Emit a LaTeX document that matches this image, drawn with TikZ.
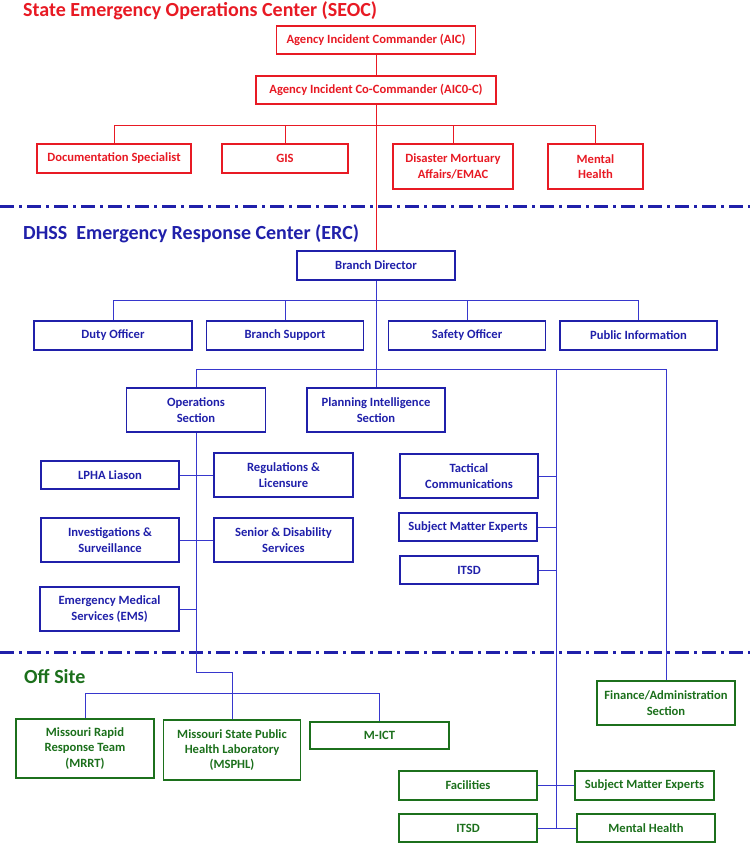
\documentclass[tikz,border=0pt]{standalone}
\usepackage{fontspec}
\setmainfont{Carlito}
\definecolor{seoc}{RGB}{232,26,36}
\definecolor{erc}{RGB}{32,32,170}
\definecolor{ercline}{RGB}{55,55,205}
\definecolor{off}{RGB}{28,112,28}
\tikzset{
 box/.style={draw, line width=1.5pt, inner sep=0pt, align=center, font=\fontsize{12.6}{15.3}\selectfont\bfseries},
 wh/.style 2 args={minimum width=#1pt, minimum height=#2pt},
 rbox/.style={box, draw=seoc, text=seoc},
 bbox/.style={box, draw=erc, text=erc},
 gbox/.style={box, draw=off, text=off},
 rline/.style={draw=seoc, line width=1pt},
 bline/.style={draw=ercline, line width=1pt},
 sepline/.style={draw=erc, line width=3pt, dash pattern=on 14pt off 5pt on 3pt off 5pt},
 ttl/.style={anchor=base west, inner sep=0pt, font=\fontsize{20}{24}\selectfont\bfseries},
}
\begin{document}
\begin{tikzpicture}[x=1pt,y=-1pt]
\useasboundingbox[fill=white] (0,0) rectangle (750,850);
% separators
\coordinate (s1l) at (0,207); \coordinate (s1r) at (750,207);
\coordinate (s2l) at (0,652); \coordinate (s2r) at (750,652);
\draw[sepline] (s1l) -- (s1r);
\draw[sepline] (s2l) -- (s2r);
% titles
\node[ttl, text=seoc] (t1) at (23,17) {State Emergency Operations Center (SEOC)};
\node[ttl, text=erc] (t2) at (23,239) {DHSS\ \ Emergency Response Center (ERC)};
\node[ttl, text=off] (t3) at (24,683) {Off Site};
% SEOC
\node[rbox, wh={199}{28}] (aic) at (376,40) {Agency Incident Commander (AIC)};
\node[rbox, wh={240}{28}] (aico) at (376,90) {Agency Incident Co-Commander (AIC0-C)};
\node[rbox, wh={154}{29}] (ds) at (114,158.5) {Documentation Specialist};
\node[rbox, wh={126}{29}] (gis) at (285,158.5) {GIS};
\node[rbox, wh={120}{45}] (dm) at (453,166.5) {Disaster Mortuary\\Affairs/EMAC};
\node[rbox, wh={95}{45}] (mhs) at (595.5,166.5) {Mental\\Health};
% ERC
\node[bbox, wh={158}{29}] (bd) at (376,265.5) {Branch Director};
\node[bbox, wh={158}{29}] (duty) at (113,335.5) {Duty Officer};
\node[bbox, wh={157}{29}] (bs) at (285,335.5) {Branch Support};
\node[bbox, wh={157}{29}] (so) at (467,335.5) {Safety Officer};
\node[bbox, wh={157}{29}] (pub) at (638.5,335.5) {Public Information};
\node[bbox, wh={139}{44}] (ops) at (196,410) {Operations\\Section};
\node[bbox, wh={138}{44}] (plan) at (376,410) {Planning Intelligence\\Section};
\node[bbox, wh={138}{28}] (lpha) at (110,475) {LPHA Liason};
\node[bbox, wh={139}{44}] (reg) at (283.5,475) {Regulations \&\\Licensure};
\node[bbox, wh={138}{44}] (inv) at (110,540) {Investigations \&\\Surveillance};
\node[bbox, wh={139}{44}] (sen) at (283.5,540) {Senior \& Disability\\Services};
\node[bbox, wh={139}{44}] (ems) at (109.5,609) {Emergency Medical\\Services (EMS)};
\node[bbox, wh={138}{44}] (tac) at (469,476) {Tactical\\Communications};
\node[bbox, wh={138}{28}] (sme) at (468,527) {Subject Matter Experts};
\node[bbox, wh={138}{28}] (itsd) at (469,570) {ITSD};
% Off site
\node[gbox, wh={138}{44}] (fin) at (666,703) {Finance/Administration\\Section};
\node[gbox, wh={138}{59}] (mrrt) at (85,748.5) {Missouri Rapid\\Response Team\\(MRRT)};
\node[gbox, wh={137}{60}] (msphl) at (232,750) {Missouri State Public\\Health Laboratory\\(MSPHL)};
\node[gbox, wh={139}{27}] (mict) at (379.5,735.5) {M-ICT};
\node[gbox, wh={138}{29}] (fac) at (468,785.5) {Facilities};
\node[gbox, wh={139}{29}] (sme2) at (644.5,785.5) {Subject Matter Experts};
\node[gbox, wh={138}{28}] (itsd2) at (468,828) {ITSD};
\node[gbox, wh={138}{28}] (mh) at (646,828) {Mental Health};
% red connectors
\draw[rline] (aic.south) -- (aico.north);
\draw[rline] (aico.south) -- (bd.north);
\draw[rline] (ds.north) -- ++(0,-18) -| (mhs.north);
\draw[rline] (gis.north) -- ++(0,-18);
\draw[rline] (dm.north) -- ++(0,-18);
% blue connectors
\draw[bline] (bd.south) -- (plan.north);
\draw[bline] (duty.north) -- ++(0,-20) -| (pub.north);
\draw[bline] (bs.north) -- ++(0,-20);
\draw[bline] (so.north) -- ++(0,-20);
\draw[bline] (ops.north) -- ++(0,-18) -| (fin.north);
\coordinate (lt) at (556,370);
\coordinate (lb) at (556,828);
\draw[bline] (lt) -- (lb);
\draw[bline] (tac.east) -- (tac.east -| lt);
\draw[bline] (sme.east) -- (sme.east -| lt);
\draw[bline] (itsd.east) -- (itsd.east -| lt);
\draw[bline] (fac.east) -- (sme2.west);
\draw[bline] (itsd2.east) -- (mh.west);
\draw[bline] (lpha.east) -- (reg.west);
\draw[bline] (inv.east) -- (sen.west);
\draw[bline] (ems.east) -- (ems.east -| ops.south);
\coordinate (oj) at (196,672);
\draw[bline] (ops.south) -- (oj) -- (oj -| msphl.north) -- (msphl.north);
\draw[bline] (mrrt.north) -- ++(0,-25) -| (mict.north);
\end{tikzpicture}
\end{document}
